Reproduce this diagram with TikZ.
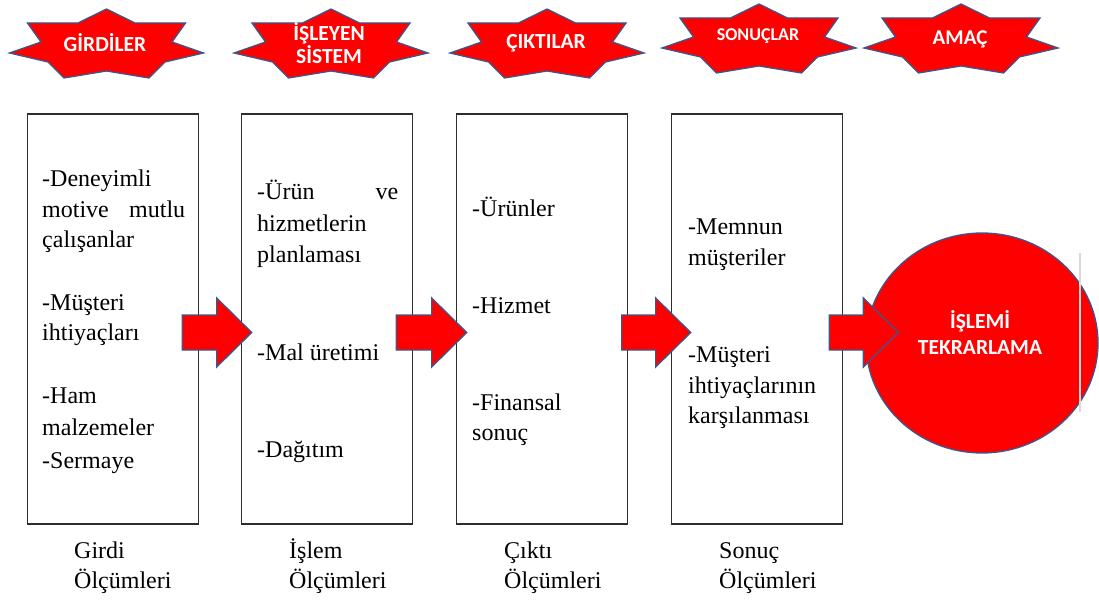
\documentclass[tikz,border=0pt]{standalone}
\usepackage{fontspec}
\setmainfont{Liberation Serif}
\newfontfamily\capfont{Carlito}
\usetikzlibrary{calc,shapes.geometric}

\definecolor{shapered}{RGB}{255,0,0}
\definecolor{shapeedge}{RGB}{62,86,138}
\definecolor{boxline}{RGB}{45,45,45}

\tikzset{
  starshape/.style={fill=shapered, draw=shapeedge, line width=1.3pt, line join=miter},
  startext/.style={text=white, align=center, inner sep=0pt},
  stagebox/.style={draw=boxline, line width=1.6pt, minimum width=171pt, minimum height=410pt, inner sep=0pt},
  itemline/.style={font=\fontsize{24}{30}\selectfont, inner sep=0pt, anchor=base west},
  measureline/.style={font=\fontsize{24}{30}\selectfont, inner sep=0pt, anchor=base west},
  redarrow/.style={fill=shapered, draw=shapeedge, line width=1.3pt, line join=miter},
  goalshape/.style={ellipse, fill=shapered, draw=shapeedge, line width=1.3pt, minimum width=232pt, minimum height=220pt, inner sep=0pt},
  goaltext/.style={text=white, font=\capfont\bfseries\fontsize{21.5}{26}\selectfont, align=center, inner sep=0pt},
}

% seven-pointed heading star with a flat top: name, centre, text centre, text, font size
\newcommand{\sevenstar}[5]{%
  \begin{scope}[shift={(#2)}]
    \filldraw[starshape] (0,-36) -- (28.5,-22) -- (79,-22) -- (65.5,-3) -- (97,8)
      -- (58.5,17) -- (42.5,33) -- (0,26) -- (-42.5,33) -- (-58.5,17) -- (-97,8)
      -- (-65.5,-3) -- (-79,-22) -- (-28.5,-22) -- cycle;
  \end{scope}
  \node[startext, font=\capfont\bfseries\fontsize{#5}{23}\selectfont] (#1) at (#3) {#4};
}

% block arrow from a start coordinate to a tip coordinate
\newcommand{\blockarrow}[2]{%
  \filldraw[redarrow] ($(#1)+(0,-17.5)$) -- ($(#2)+(-35,-17.5)$) -- ($(#2)+(-35,-34.5)$)
    -- (#2) -- ($(#2)+(-35,34.5)$) -- ($(#2)+(-35,17.5)$) -- ($(#1)+(0,17.5)$) -- cycle;
}

\begin{document}
\begin{tikzpicture}[x=1pt, y=-1pt]
\useasboundingbox (0,0) rectangle (1099,601);

% headings
\sevenstar{sinput}{106.5,45}{105,43}{GİRDİLER}{21.5}
\sevenstar{sprocess}{331,45}{329,43.5}{İŞLEYEN\\SİSTEM}{21.5}
\sevenstar{soutput}{547,45}{546,43}{ÇIKTILAR}{21.5}
\sevenstar{sresult}{759,40}{758,36}{SONUÇLAR}{18}
\sevenstar{sgoal}{961,40}{960,39}{AMAÇ}{21}

% stage boxes
\node[stagebox] (b1) at (113,319) {};
\node[stagebox] (b2) at (327,319) {};
\node[stagebox] (b3) at (542,319) {};
\node[stagebox] (b4) at (757,319) {};

% box contents
\node[itemline] (i11) at (42,187) {-Deneyimli};
\node[itemline] (i12) at (42,217.5) {\hbox to 143pt{motive\hfil mutlu}};
\node[itemline] (i13) at (42,248) {çalışanlar};
\node[itemline] (i14) at (42,310) {-Müşteri};
\node[itemline] (i15) at (42,340.5) {ihtiyaçları};
\node[itemline] (i16) at (42,403) {-Ham};
\node[itemline] (i17) at (42,435) {malzemeler};
\node[itemline] (i18) at (42,468) {-Sermaye};

\node[itemline] (i21) at (257,200) {\hbox to 141pt{-Ürün\hfil ve}};
\node[itemline] (i22) at (257,231.5) {hizmetlerin};
\node[itemline] (i23) at (257,263) {planlaması};
\node[itemline] (i24) at (257,360) {-Mal üretimi};
\node[itemline] (i25) at (257,457) {-Dağıtım};

\node[itemline] (i31) at (472,217) {-Ürünler};
\node[itemline] (i32) at (472,313) {-Hizmet};
\node[itemline] (i33) at (472,410) {-Finansal};
\node[itemline] (i34) at (472,440.5) {sonuç};

\node[itemline] (i41) at (688,235) {-Memnun};
\node[itemline] (i42) at (688,265.5) {müşteriler};
\node[itemline] (i43) at (688,362) {-Müşteri};
\node[itemline] (i44) at (688,393) {ihtiyaçlarının};
\node[itemline] (i45) at (688,423.5) {karşılanması};

% measurement captions
\node[measureline] (m11) at (74,558) {Girdi};
\node[measureline] (m12) at (74,588) {Ölçümleri};
\node[measureline] (m21) at (289,558) {İşlem};
\node[measureline] (m22) at (289,588) {Ölçümleri};
\node[measureline] (m31) at (504,558) {Çıktı};
\node[measureline] (m32) at (504,588) {Ölçümleri};
\node[measureline] (m41) at (719,558) {Sonuç};
\node[measureline] (m42) at (719,588) {Ölçümleri};

% goal circle
\node[goalshape] (goal) at (982,343) {};
\node[goaltext] (goallabel) at (980,333) {İŞLEMİ\\TEKRARLAMA};

% arrows between stages
\coordinate (a1s) at ($(b1.east)+(-17,13.5)$);
\coordinate (a1t) at ($(b2.west)+(11,13.5)$);
\coordinate (a2s) at ($(b2.east)+(-17,13.5)$);
\coordinate (a2t) at ($(b3.west)+(11,13.5)$);
\coordinate (a3s) at ($(b3.east)+(-6.5,13.5)$);
\coordinate (a3t) at ($(b4.west)+(20,13.5)$);
\coordinate (a4s) at ($(b4.east)+(-14,13.5)$);
\coordinate (a4t) at ($(goal.west)+(33,-10.5)$);
\blockarrow{a1s}{a1t}
\blockarrow{a2s}{a2t}
\blockarrow{a3s}{a3t}
\blockarrow{a4s}{a4t}

% thin grey rule at the right edge
\coordinate (g1) at (1080,253);
\coordinate (g2) at (1080,412);
\draw[gray!30, line width=2.5pt] (g1) -- (g2);
\end{tikzpicture}
\end{document}
